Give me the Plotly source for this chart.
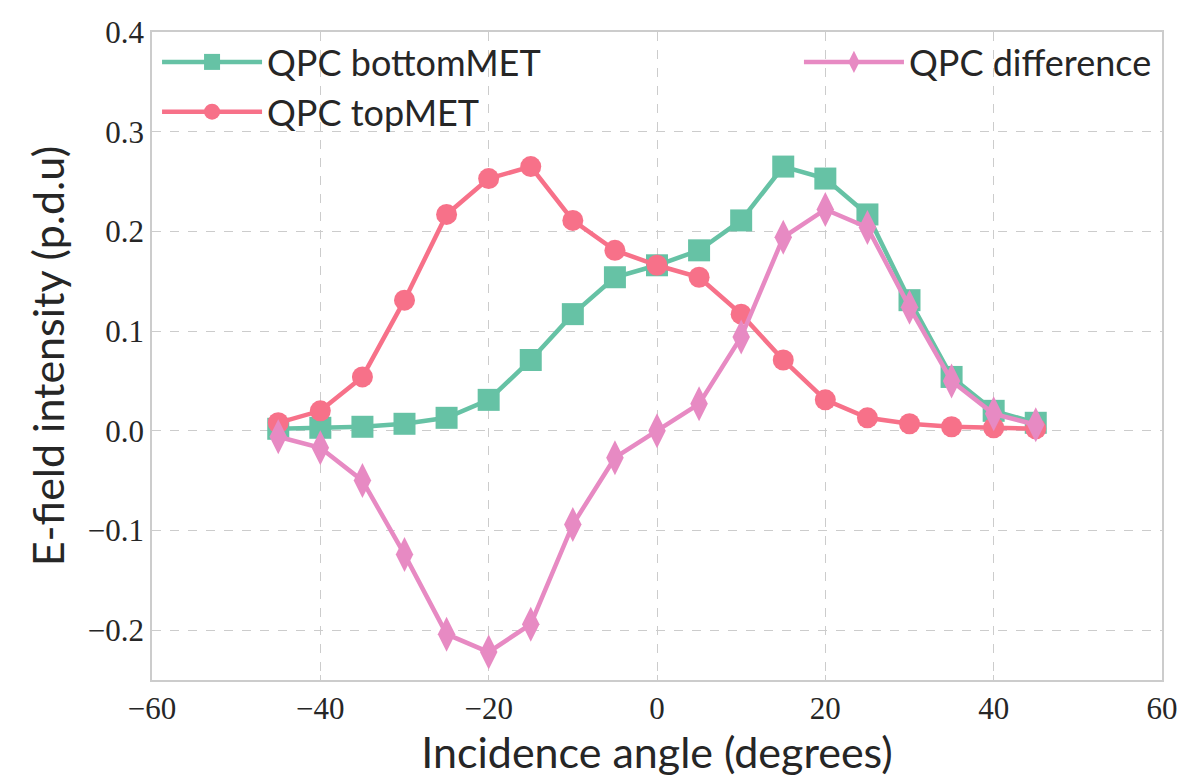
import plotly.graph_objects as go

angles = [-45, -40, -35, -30, -25, -20, -15, -10, -5, 0, 5, 10, 15, 20, 25, 30, 35, 40, 45]
bottom_met = [0.002, 0.003, 0.004, 0.007, 0.013, 0.031, 0.071, 0.117, 0.154, 0.166,
              0.181, 0.211, 0.265, 0.253, 0.217, 0.131, 0.054, 0.020, 0.008]
top_met = [0.008, 0.020, 0.054, 0.131, 0.217, 0.253, 0.265, 0.211, 0.181, 0.166,
           0.154, 0.117, 0.071, 0.031, 0.013, 0.007, 0.004, 0.003, 0.002]
difference = [-0.006, -0.017, -0.050, -0.124, -0.204, -0.222, -0.194, -0.094, -0.027, 0.0,
              0.027, 0.094, 0.194, 0.222, 0.204, 0.124, 0.050, 0.017, 0.006]

x_ticks = [-60, -40, -20, 0, 20, 40, 60]
y_ticks = [-0.2, -0.1, 0.0, 0.1, 0.2, 0.3, 0.4]

def fmt_num(v, dec):
    s = f"{abs(v):.{dec}f}"
    return ("\u2212" + s) if v < 0 else s

green = "#66c2a5"
red = "#f77189"
pink = "#e78ac3"
sans = "Lato, Open Sans, DejaVu Sans, sans-serif"
serif = "Liberation Serif, DejaVu Serif, serif"

fig = go.Figure()
fig.add_trace(go.Scatter(x=angles, y=bottom_met, mode="lines+markers", name="QPC bottomMET",
                         line=dict(color=green, width=4.5),
                         marker=dict(symbol="square", size=22, color=green), legend="legend"))
fig.add_trace(go.Scatter(x=angles, y=top_met, mode="lines+markers", name="QPC topMET",
                         line=dict(color=red, width=4.5),
                         marker=dict(symbol="circle", size=21, color=red), legend="legend"))
fig.add_trace(go.Scatter(x=angles, y=difference, mode="lines+markers", name="QPC difference",
                         line=dict(color=pink, width=4.5),
                         marker=dict(symbol="diamond-tall", size=25, color=pink), legend="legend2"))

fig.update_layout(
    width=1190, height=778,
    margin=dict(l=152, r=22, t=32, b=98),
    paper_bgcolor="white", plot_bgcolor="white",
    font=dict(family=sans, color="#262626"),
    legend=dict(x=0.005, y=1.0, xanchor="left", yanchor="top", bgcolor="rgba(0,0,0,0)",
                font=dict(family=sans, size=36, color="#262626"), itemwidth=100,
                tracegroupgap=0),
    legend2=dict(x=0.995, y=1.0, xanchor="right", yanchor="top", bgcolor="rgba(0,0,0,0)",
                 font=dict(family=sans, size=36, color="#262626"), itemwidth=100),
    xaxis=dict(range=[-60, 60], tickvals=x_ticks, ticktext=[fmt_num(v, 0) for v in x_ticks],
               showgrid=True, gridcolor="#cccccc", griddash="dash", gridwidth=1,
               zeroline=False, showline=True, linecolor="#cccccc", linewidth=1.5, mirror=True,
               ticks="inside", ticklen=5, tickcolor="#cccccc",
               tickfont=dict(family=serif, size=31, color="#262626"),
               title=dict(text="Incidence angle (degrees)", font=dict(family=sans, size=43, color="#262626"),
                          standoff=6)),
    yaxis=dict(range=[-0.25, 0.4], tickvals=y_ticks, ticktext=[fmt_num(v, 1) for v in y_ticks],
               showgrid=True, gridcolor="#cccccc", griddash="dash", gridwidth=1,
               zeroline=False, showline=True, linecolor="#cccccc", linewidth=1.5, mirror=True,
               ticks="inside", ticklen=5, tickcolor="#cccccc",
               tickfont=dict(family=serif, size=31, color="#262626"),
               title=dict(text="E-field intensity (p.d.u)", font=dict(family=sans, size=43, color="#262626"),
                          standoff=10)),
)

fig.write_html("out.html")
